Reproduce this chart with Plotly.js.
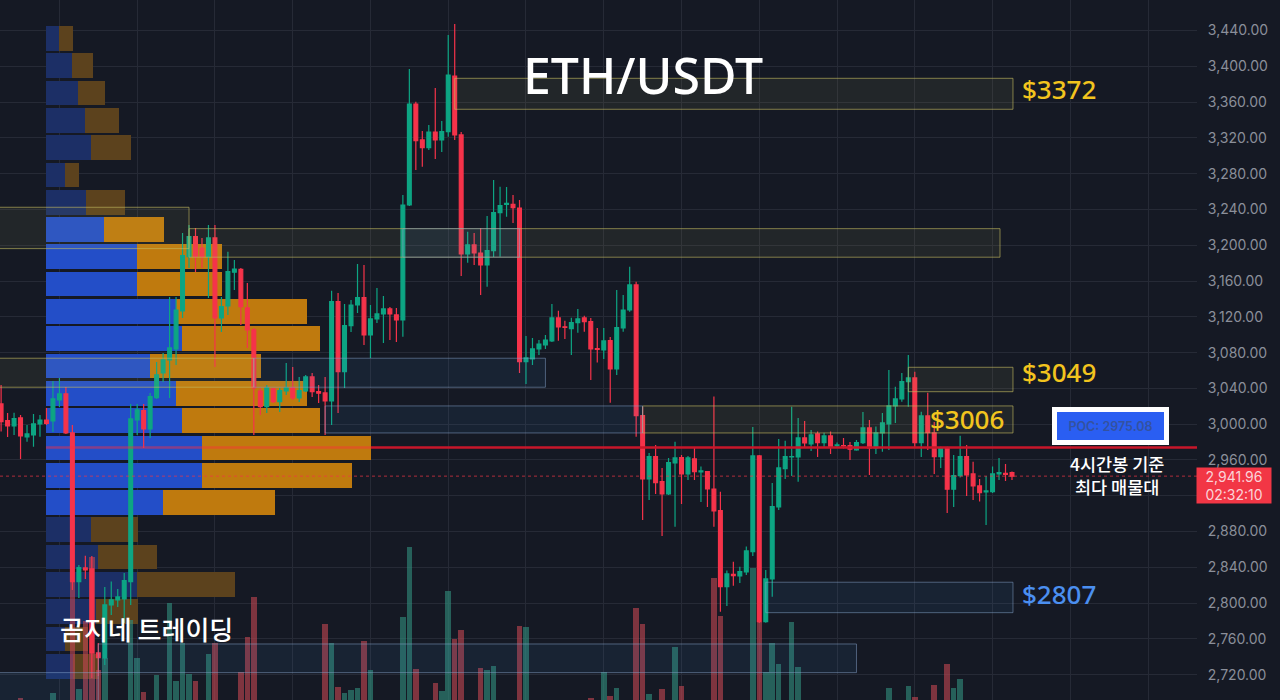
<!DOCTYPE html>
<html><head><meta charset="utf-8">
<script src="https://cdn.plot.ly/plotly-3.0.1.min.js"></script>
<style>html,body{margin:0;padding:0;background:#151924}#c{width:1280px;height:700px}</style>
</head><body><div id="c"></div>
<script>
const opens=[3022.6,3004,2998,3007,2985.7,2988,3000.3,3004.7,3003.6,3027.1,3033.8,2990.2,2824.1,2839.4,2838.3,2744.4,2738.8,2798,2803.6,2804.7,2824.1,3004.7,3015.1,2994.7,3029.6,3057.2,3071.8,3084.1,3126.5,3187.2,3209.5,3196.9,3187.2,3208.1,3118.7,3132.1,3169.8,3173.1,3129.9,3105.3,3037.1,3019.6,3039.4,3025.2,3037.1,3040.5,3029.3,3037.1,3052.8,3036.4,3034.9,3026,3136.9,3058.7,3110.1,3133.2,3141.4,3099.7,3117.6,3123.2,3128.8,3122.1,3116.5,3244.9,3357.8,3317.6,3309,3326.5,3317.6,3326.9,3389.1,3323.2,3190.2,3200.3,3191.3,3177.9,3193.9,3236.4,3245.7,3245.7,3241.6,3069.9,3072.9,3084.1,3088.5,3093,3118.7,3108.9,3106.7,3113.4,3118.7,3114.6,3084.6,3083,3093.3,3061.7,3107.5,3127.6,3155.6,3009.5,2938.8,2963.7,2935.8,2922.1,2956.7,2962.6,2944.4,2961.2,2946.6,2947,2927.6,2903.4,2818.5,2832.3,2830.4,2834.9,2857.6,2964.5,2779.4,2827.1,2907.5,2950.3,2963.4,2963.4,2984.6,2977.9,2989.1,2979.4,2986.9,2976,2976.2,2976,2971.2,2979.4,2995.8,2973.4,2990.2,3000.3,3020.4,3028.2,3047.5,3051.7,2979.4,3009.2,2990.2,2963.7,2972.7,2927.3,2942.5,2963.7,2944.4,2931,2924.3,2924.6,2944.4,2945.2,2945.8];
const highs=[3043.8,3012.6,3012.9,3010.3,2999.1,3011.4,3010.3,3018.1,3048.3,3051.7,3041.6,2999.1,2842.7,2853.1,2852.8,2755.6,2818.1,2824.1,2815.9,2833.8,3022.6,3022.6,3022.6,3034.9,3069.5,3079.6,3142.2,3142.2,3213.7,3222.6,3219.3,3208.1,3222.6,3222.6,3142.2,3192.8,3183.5,3174.6,3157.8,3107.5,3040.5,3043.8,3040.5,3040.5,3068.4,3063.9,3052.8,3055,3057.2,3043.8,3052.8,3149.2,3146.6,3134.3,3138.8,3179,3177.9,3133.2,3152.2,3143.3,3131,3129.9,3256.1,3396.9,3360.4,3327.6,3334.3,3375.7,3338.8,3434.9,3447.2,3326.5,3215.1,3213.7,3219.3,3232.7,3272.9,3265.4,3265.1,3256.1,3250.5,3098.6,3096.3,3094.1,3099.7,3134.3,3126.8,3115.7,3119,3128.8,3121.3,3118.7,3107.5,3107.5,3097.5,3150,3144.4,3176,3159.3,3019.6,2967.9,2976.8,2951.1,2962.3,2980.5,2965.6,2964.5,2973.4,2952.6,2947.8,3030.8,2924.6,2836.4,2846.4,2840.8,2863.2,2996.9,2965.6,2837.1,2934.3,2983.5,2981.6,3019.6,3007,3003.6,2993.6,2991.7,2990.5,2991.7,2979.4,2984.6,2980.2,2982.4,3013.7,3004.7,2997.3,3012.6,3060.6,3041.9,3057.2,3077.4,3058.7,3014,3035.2,3002.5,2974.9,2974.9,2965.6,2987.2,2976.8,2958.1,2938.8,2942.2,2952.6,2962.3,2955.6,2947];
const lows=[2991.7,2985.7,2988,2961.2,2980.5,2974.9,2986.1,2999.1,2991.3,3019.3,2989.1,2814.8,2805.9,2827.1,2716.5,2718.7,2731,2786.9,2795.8,2777.9,2798,2988,2973.4,2984.6,3028.2,3047.2,3029.3,3066.2,3118.7,3174.6,3170.1,3174.6,3141,3063.9,3103,3122.1,3150,3110.9,3085.2,2988,3010.3,3012.6,3023.7,3013.7,3032.7,3027.1,3024.8,3036,3030.4,3023.7,2988,2999.1,3012.6,3040.5,3103,3124.3,3088.5,3074,3113.1,3090.8,3094.1,3091.9,3097.8,3243.8,3284.1,3287.7,3306.4,3296.3,3304.2,3321.3,3317.6,3165.6,3180.5,3177.9,3144.4,3153.7,3186.9,3187.2,3231.9,3224.8,3057.2,3044.9,3066.2,3077.4,3084.1,3091.9,3093.3,3095.2,3077.4,3102.3,3103.4,3049.4,3068.8,3072.9,3024,3055,3103.4,3125.7,2986.1,2893,2915.4,2922.1,2875.1,2921,2885.5,2910.9,2937.7,2937.7,2913.1,2907.5,2885.5,2790.5,2796.9,2819.6,2822.6,2831.5,2852.8,2777.9,2778.2,2807.3,2904.2,2938.8,2942.2,2935.8,2973.8,2970.1,2963.4,2974.9,2966.7,2973.8,2972.7,2960,2970.4,2977.9,2943.3,2966.7,2969.3,2971.2,3001.4,3025.2,3019.6,2973.4,2963.4,2971.2,2944.4,2951.1,2900.8,2907.5,2940.3,2919.8,2915.4,2913.5,2887.4,2923.2,2937.7,2936.6,2937.7];
const closes=[3002.8,2998,3006.2,2986.9,2989.1,3000.3,3004.7,3001,3028.2,3033.8,2990.2,2824.1,2839.7,2837.1,2744.4,2739.1,2798,2803.6,2807,2825.2,3005.9,3015.9,2994.7,3030.8,3055,3071.8,3085.2,3127.6,3188.3,3209.5,3187.2,3187.2,3208.1,3118.7,3131.3,3170.4,3173.4,3131.3,3105.3,3040.5,3019.6,3040.5,3025.2,3037.5,3040.5,3029.3,3037.5,3052.8,3036.4,3034.6,3026,3136.9,3058.7,3110.1,3133.2,3141.4,3099.7,3117.6,3123.2,3128.8,3123.2,3116.5,3244.9,3357.8,3316.8,3309,3326.5,3317.6,3326.9,3390.2,3323.2,3190.2,3200.3,3191.3,3177.9,3193.9,3236.4,3244.2,3246.9,3241.9,3069.9,3074,3084.1,3089.6,3094.1,3118.7,3108.6,3108.1,3113.4,3117.6,3114.6,3084.1,3083.7,3093,3061.7,3107.9,3127.6,3155.6,3009.5,2938.8,2963.7,2934.7,2922.1,2957,2962.3,2944.4,2962.3,2947,2947.8,2927.6,2903.1,2818.5,2832.7,2830.8,2835.3,2858.4,2964.5,2779.4,2827.1,2907.9,2951.1,2963.7,2963.9,2984.6,2979,2988,2979.4,2986.9,2974.9,2976.8,2975.7,2972,2979.4,2995.8,2973.4,2990.2,3001.4,3020.4,3028.2,3047.5,3051.7,2979.4,3009.2,2990.5,2963.7,2972.7,2927.3,2942.5,2963.7,2943.3,2931,2923.5,2925.4,2944.4,2945.8,2944,2941.96];
const volumes=[0,0,0,2,0,0,0,0,7,0,0,120,11,79,143,30,42,0,0,0,80,42,8,0,25,0,97,19,57,26,19,0,46,57,0,0,0,28,63,103,0,0,0,0,0,0,0,0,0,0,76,57,13,7,10,12,59,30,0,0,0,0,83,153,31,0,0,17,9,109,61,70,0,0,32,30,34,0,0,0,74,73,0,0,0,0,0,0,0,0,0,2,0,28,4,12,0,0,92,76,6,0,11,0,53,14,0,0,0,0,122,84,0,0,0,0,132,78,28,57,36,0,78,33,0,0,0,0,0,0,0,0,0,0,0,0,0,12,0,0,14,3,0,0,15,0,36,12,21,0,0,0,0,0,0,0,0];

const profilePrices=[3431,3400.5,3370,3339.5,3309,3278.5,3248,3217.5,3187,3156.5,3126,3095.5,3065,3034.5,3004,2973.5,2943,2912.5,2882,2851.5,2821,2790.5,2760,2729.5];
const profileBuy=[13,26,32,39,45,19,40,58,91,91,130,136,104,130,136,156,156,117,45,52,91,50,19,27];
const profileSell=[14,21,27,34,40,14,39,60,85,85,131,138,111,131,138,169,150,112,47,59,98,42,23,26];
const profileInValueArea=[0,0,0,0,0,0,0,1,1,1,1,1,1,1,1,1,1,1,0,0,0,0,0,0];

const zoneKinds=['y','y','b','y','y','b','y','b','y','b','b','b'];
const zoneStart=[70,29,62,-2,-2,39,99,50,140,118,15,-2];
const zoneEnd=[156.15,154.15,80,29,39,84,156.15,99,156.15,156.15,132,15];
const zoneTop=[3386.5,3218.5,3218.5,3242.4,3073.7,3073.7,3020.4,3020.4,3063.6,2823.4,2754.4,2722.4];
const zoneBottom=[3351.9,3186.6,3186.6,3196.2,3041.3,3041.3,2990.2,2990.2,3036.3,2789.4,2722.4,2680];

const lastPrice=2941.96, pocPrice=2974, priceMin=2691.8, priceMax=3474;
const tickValues=[2720,2760,2800,2840,2880,2920,2960,3000,3040,3080,3120,3160,3200,3240,3280,3320,3360,3400,3440];
const tickLabels=['2,720.00','2,760.00','2,800.00','2,840.00','2,880.00','','2,960.00','3,000.00','3,040.00','3,080.00','3,120.00','3,160.00','3,200.00','3,240.00','3,280.00','3,320.00','3,360.00','3,400.00','3,440.00'];
const lastPriceLabel='2,941.96';
const countdown='02:32:10';

const W=1197,H=700;
const idx=opens.map((_,i)=>i);
const volColors=opens.map((o,i)=>closes[i]>=o?'rgba(48,140,125,0.62)':'rgba(190,70,80,0.62)');
const GREEN='#0da583',RED='#f5334a';
const traces=[
 {type:'bar',orientation:'h',y:profilePrices,x:profileBuy,width:27.6,xaxis:'x',yaxis:'y',
  marker:{color:profileInValueArea.map(v=>v?'#234ec8':'#1c2f66'),line:{width:0}},hoverinfo:'skip'},
 {type:'bar',orientation:'h',y:profilePrices,x:profileSell,width:27.6,xaxis:'x',yaxis:'y',
  marker:{color:profileInValueArea.map(v=>v?'#bf7a0e':'#5c421d'),line:{width:0}},hoverinfo:'skip'},
 {type:'bar',x:idx,y:volumes,width:0.85,xaxis:'x2',yaxis:'y2',marker:{color:volColors,line:{width:0}},hoverinfo:'skip'},
 {type:'candlestick',x:idx,open:opens,high:highs,low:lows,close:closes,xaxis:'x2',yaxis:'y3',whiskerwidth:0,
  increasing:{line:{color:GREEN,width:1.2},fillcolor:GREEN},
  decreasing:{line:{color:RED,width:1.2},fillcolor:RED},hoverinfo:'skip'}
];
const shapes=zoneKinds.map((k,i)=>({type:'rect',xref:'x2',yref:'y',layer:'above',
  x0:zoneStart[i],x1:zoneEnd[i],y0:zoneBottom[i],y1:zoneTop[i],
  fillcolor:k==='y'?'rgba(205,200,110,0.075)':'rgba(70,150,225,0.08)',
  line:{color:k==='y'?'rgba(195,185,95,0.62)':'rgba(135,165,205,0.5)',width:1}}));
shapes.push(
 {type:'line',xref:'x',yref:'y',layer:'above',x0:0,x1:325,y0:pocPrice,y1:pocPrice,line:{color:'rgba(255,45,60,0.45)',width:2.5}},
 {type:'line',xref:'x',yref:'y',layer:'above',x0:325,x1:1151,y0:pocPrice,y1:pocPrice,line:{color:'#c8162a',width:2.5}},
 {type:'line',xref:'paper',yref:'y',layer:'above',x0:0,x1:1,y0:lastPrice,y1:lastPrice,line:{color:'rgba(242,54,69,0.7)',width:1,dash:'dot'}}
);
const px=x=>x/W, py=y=>1-y/H;
const note=(text,x,y,size,color,extra)=>Object.assign({text,xref:'paper',yref:'paper',x:px(x),y:py(y),xanchor:'left',yanchor:'middle',showarrow:false,
  font:{family:'"Noto Sans","Noto Sans CJK KR",sans-serif',size,color,weight:500}},extra||{});
const cjk=(size)=>({family:'"Noto Sans CJK KR",sans-serif',size,color:'#ffffff',weight:500});
const annotations=[
 note('ETH/USDT',521,75,50,'#ffffff'),
 note('$3372',1020,89,26,'#f2c41e'),
 note('$3049',1020,372,26,'#f2c41e'),
 note('$3006',928,419,26,'#f2c41e'),
 note('$2807',1020,594,26,'#4b8ff0'),
 note('곰지네 트레이딩',58,628,26,'#ffffff',{font:cjk(26)}),
 note('4시간봉 기준<br>최다 매물대',1117,475,17.5,'#ffffff',{xanchor:'center',font:cjk(17.5)}),
 note('POC: '+'2975.08',1110,426,12.5,'#34529f',{xanchor:'center',bgcolor:'#2a5ef2',bordercolor:'#ffffff',borderwidth:5,borderpad:0,width:107,height:28,
   font:{family:'Inter,sans-serif',size:12.5,color:'#34529f',weight:600}}),
 note(lastPriceLabel+'<br>'+countdown,1234,485,14,'#fbd3d8',{xanchor:'center',bgcolor:'#f23645',width:74,height:35,borderpad:0,
   font:{family:'Inter,sans-serif',size:14,color:'#fbd3d8'}})
];
const layout={
 width:1280,height:700,margin:{l:0,r:83,t:0,b:0,pad:0},paper_bgcolor:'#151924',plot_bgcolor:'#151924',
 showlegend:false,barmode:'stack',boxgap:0.16,hovermode:false,dragmode:false,
 xaxis:{range:[-46,1151],visible:false,showgrid:false,zeroline:false,fixedrange:true,rangeslider:{visible:false}},
 xaxis2:{overlaying:'x',range:[-0.17,184.55],type:'linear',showgrid:true,gridcolor:'#262a36',gridwidth:1,zeroline:false,tick0:9,dtick:12,showticklabels:false,ticks:'',showline:false,fixedrange:true,rangeslider:{visible:false}},
 yaxis:{side:'right',range:[priceMin,priceMax],tickmode:'array',tickvals:tickValues,ticktext:tickLabels,ticks:'outside',ticklen:7,tickcolor:'rgba(0,0,0,0)',
   showgrid:true,gridcolor:'#262a36',gridwidth:1,zeroline:false,showline:false,fixedrange:true,
   tickfont:{family:'Inter,sans-serif',size:14,color:'#8b8f9a'}},
 yaxis2:{overlaying:'y',range:[0,700],visible:false,showgrid:false,zeroline:false,fixedrange:true},
 yaxis3:{overlaying:'y',range:[priceMin,priceMax],visible:false,showgrid:false,zeroline:false,fixedrange:true},
 shapes,annotations
};
Plotly.newPlot('c',traces,layout,{staticPlot:true,displayModeBar:false});
</script></body></html>
